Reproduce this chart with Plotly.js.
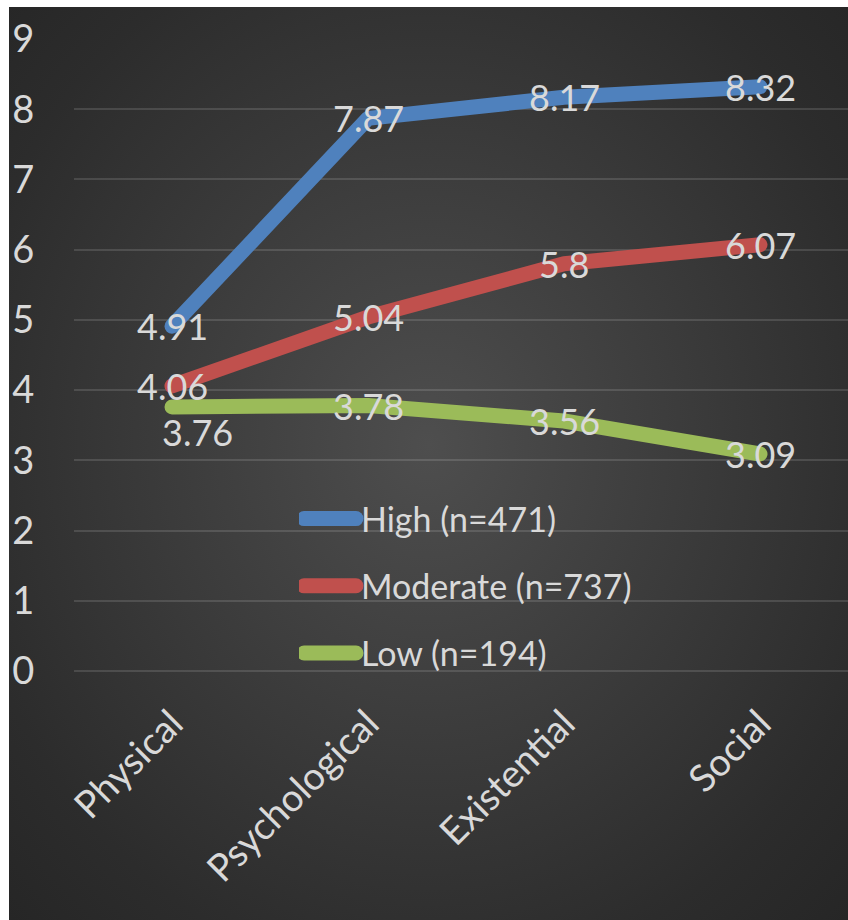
<!DOCTYPE html>
<html>
<head>
<meta charset="utf-8">
<script src="https://cdn.plot.ly/plotly-3.0.1.min.js"></script>
<style>
  html, body { margin: 0; padding: 0; background: #ffffff; }
  #wrap { position: relative; width: 848px; height: 920px; background: #ffffff; }
  #bg { position: absolute; left: 9px; top: 7px; width: 839px; height: 913px;
        background: radial-gradient(ellipse at 50% 48%, #4e4e4e 0%, #3d3d3d 40%, #2c2c2c 80%, #262626 100%); }
  #chart { position: absolute; left: 0; top: 0; width: 848px; height: 920px; }
  #chart .scatterlayer path.js-line { stroke-linecap: round; stroke-linejoin: round; }
  #chart .legend .legendlines path { stroke-width: 15px !important; stroke-linecap: round; }
</style>
</head>
<body>
<div id="wrap"><div id="bg"></div><div id="chart"></div></div>
<script>
const categories = ["Physical", "Psychological", "Existential", "Social"];
const seriesNames = ["High (n=471)", "Moderate (n=737)", "Low (n=194)"];
const highValues = [4.91, 7.87, 8.17, 8.32];
const moderateValues = [4.06, 5.04, 5.8, 6.07];
const lowValues = [3.76, 3.78, 3.56, 3.09];
const yTicks = [0, 1, 2, 3, 4, 5, 6, 7, 8, 9];

const colors = ["#4F81BD", "#C0504D", "#9BBB59"];
const allValues = [highValues, moderateValues, lowValues];
const FONT = "Lato, 'Open Sans', sans-serif";
const TXT = "#d9d9d9";

const traces = allValues.map((vals, i) => ({
  type: "scatter",
  mode: "lines",
  x: categories,
  y: vals,
  name: seriesNames[i],
  legendgroup: "g" + i,
  line: { color: colors[i], width: 15, shape: "linear" },
  hoverinfo: "skip"
}));

const annotations = [];
allValues.forEach((vals, i) => {
  vals.forEach((v, j) => {
    const special = (i === 2 && j === 0);
    annotations.push({
      x: categories[j], y: v, xref: "x", yref: "y",
      text: String(v), showarrow: false,
      font: { family: FONT, size: 36, color: TXT },
      xshift: special ? 25 : 0,
      yshift: special ? -25 : 0
    });
  });
});

const layout = {
  width: 848, height: 920,
  margin: { l: 74, r: 0, t: 39, b: 249 },
  paper_bgcolor: "rgba(0,0,0,0)",
  plot_bgcolor: "rgba(0,0,0,0)",
  showlegend: true,
  legend: {
    x: (299 - 74) / 774, xanchor: "left",
    y: (671 - 490) / 632, yanchor: "top",
    bgcolor: "rgba(0,0,0,0)",
    font: { family: FONT, size: 34, color: TXT },
    traceorder: "grouped",
    tracegroupgap: 20,
    itemwidth: 52
  },
  xaxis: {
    type: "category",
    range: [-0.5, (848 - 74) / 196 - 0.5],
    showgrid: false, zeroline: false, showline: false,
    ticks: "outside", ticklen: 14, tickcolor: "rgba(0,0,0,0)",
    tickangle: -45,
    tickfont: { family: FONT, size: 38, color: TXT },
    fixedrange: true
  },
  yaxis: {
    range: [0, 9],
    tickvals: yTicks,
    showgrid: true, gridcolor: "rgba(255,255,255,0.13)", gridwidth: 2,
    zeroline: true, zerolinecolor: "rgba(255,255,255,0.13)", zerolinewidth: 2,
    showline: false,
    ticks: "outside", ticklen: 31, tickcolor: "rgba(0,0,0,0)",
    tickfont: { family: FONT, size: 38, color: TXT },
    fixedrange: true
  },
  annotations: annotations
};

Plotly.newPlot("chart", traces, layout, { staticPlot: true, displayModeBar: false });
</script>
</body>
</html>
